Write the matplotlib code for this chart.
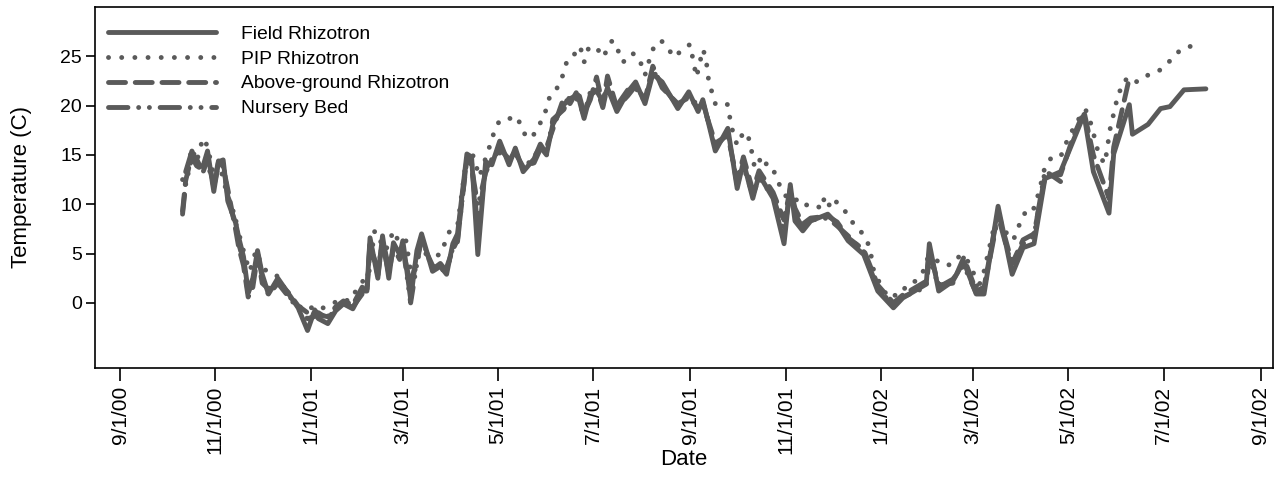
import matplotlib
matplotlib.use('Agg')
import matplotlib.pyplot as plt
import matplotlib.dates as mdates
from matplotlib.ticker import FuncFormatter
import numpy as np
import pandas as pd

plt.rcParams['font.family'] = ['Liberation Sans', 'DejaVu Sans']

# sampling dates shared by the field, above-ground and nursery probes
probe_dates = [
    '2000-10-11', '2000-10-13', '2000-10-17', '2000-10-20', '2000-10-24', '2000-10-27',
    '2000-10-31', '2000-11-03', '2000-11-06', '2000-11-09', '2000-11-14', '2000-11-16',
    '2000-11-19', '2000-11-22', '2000-11-25', '2000-11-28', '2000-12-01', '2000-12-05',
    '2000-12-11', '2000-12-18', '2000-12-24', '2000-12-30', '2001-01-03', '2001-01-06',
    '2001-01-12', '2001-01-17', '2001-01-22', '2001-01-28', '2001-02-03', '2001-02-06',
    '2001-02-08', '2001-02-13', '2001-02-16', '2001-02-20', '2001-02-23', '2001-02-27',
    '2001-03-01', '2001-03-06', '2001-03-10', '2001-03-13', '2001-03-20', '2001-03-25',
    '2001-03-29', '2001-04-02', '2001-04-05', '2001-04-11', '2001-04-14', '2001-04-18',
    '2001-04-23', '2001-04-27', '2001-05-02', '2001-05-08', '2001-05-12', '2001-05-17',
    '2001-05-24', '2001-05-28', '2001-06-01', '2001-06-05', '2001-06-12', '2001-06-16',
    '2001-06-21', '2001-06-25', '2001-06-29', '2001-07-03', '2001-07-07', '2001-07-10',
    '2001-07-16', '2001-07-23', '2001-07-28', '2001-08-03', '2001-08-08', '2001-08-14',
    '2001-08-24', '2001-08-31', '2001-09-06', '2001-09-09', '2001-09-17', '2001-09-25',
    '2001-10-01', '2001-10-05', '2001-10-11', '2001-10-15', '2001-10-24', '2001-10-31',
    '2001-11-04', '2001-11-07', '2001-11-12', '2001-11-17', '2001-11-28', '2001-12-04',
    '2001-12-11', '2001-12-21', '2001-12-30', '2002-01-09', '2002-01-15', '2002-01-30',
    '2002-02-01', '2002-02-07', '2002-02-16', '2002-02-23', '2002-03-03', '2002-03-08',
    '2002-03-17', '2002-03-26', '2002-04-02', '2002-04-09', '2002-04-16', '2002-04-26',
    '2002-05-04', '2002-05-11', '2002-05-17', '2002-05-27', '2002-05-30', '2002-06-09',
    '2002-06-11', '2002-06-21', '2002-06-29', '2002-07-05', '2002-07-14', '2002-07-28',
]

field_temp = [
    None, 13.3, 15.4, 14.1, 13.8, 15.4, 11.3, 14.3, 14.5, 10.3, 8.1, 6.6,
    4.7, 1.2, 2.5, 5.3, 2.9, 0.9, 2.5, 0.9, -0.5, -2.8, -1.0, -1.6,
    -2.1, -0.8, -0.1, -0.6, 1.2, 1.2, 6.6, 2.5, 6.8, 2.5, 6.1, 4.9,
    6.3, 0.4, 5.3, 7.0, 3.2, 3.7, 2.9, 6.0, 7.0, 15.1, 14.8, 4.9,
    14.3, 14.0, 16.4, 14.0, 15.7, 13.3, 14.6, 16.1, 15.1, 18.1, 20.1, 20.7,
    21.1, 18.7, 21.1, 21.5, 20.4, 21.8, 19.4, 21.4, 22.4, 20.2, 23.2, 22.4,
    19.7, 21.4, 19.4, 20.6, 15.4, 17.7, 11.6, 14.3, 10.6, 13.0, 10.6, 6.0,
    12.0, 8.3, 7.3, 8.3, 9.0, 8.0, 6.3, 4.9, 1.2, -0.5, 0.5, 1.9,
    6.0, 1.2, 2.2, 4.2, 0.9, 0.9, 9.8, 2.9, 5.6, 6.0, 12.6, 13.3,
    16.4, 19.1, 13.3, 9.1, 15.1, 20.1, 17.1, 18.1, 19.7, 19.9, 21.6, 21.7,
]

above_temp = [
    9.3, 12.4, 15.0, 14.6, 13.2, 14.6, 12.0, 14.4, 13.8, 11.5, 7.4, 5.6,
    3.8, 0.6, 1.6, 4.8, 2.0, 1.4, 2.2, 1.0, -0.3, -1.0, -0.6, -1.2,
    -1.4, -0.4, 0.2, -0.2, 1.6, 1.0, 5.8, 3.4, 6.0, 3.0, 5.6, 4.4,
    5.4, 1.8, 4.6, 6.2, 3.8, 3.2, 3.6, 5.4, 6.4, 14.6, 14.2, 7.5,
    13.6, 14.4, 15.6, 14.6, 15.2, 13.8, 14.2, 15.6, 15.8, 17.6, 20.8, 20.2,
    21.6, 19.2, 20.6, 22.9, 20.0, 23.0, 19.8, 21.0, 22.0, 20.6, 24.0, 21.8,
    20.2, 20.8, 19.8, 20.2, 16.2, 17.0, 12.4, 14.8, 11.4, 13.4, 11.2, 8.4,
    11.6, 9.6, 8.0, 8.6, 8.8, 8.2, 6.6, 5.4, 1.8, 0.0, 0.8, 2.2,
    5.2, 1.8, 2.0, 4.6, 1.2, 1.6, 9.2, 4.0, 6.4, 7.0, 12.8, 13.0,
    16.8, 19.4, 15.0, 10.6, 15.8, 22.8,
]

nursery_temp = [
    9.0, 12.0, 14.8, 13.9, 13.5, 14.2, 11.8, 14.0, 14.2, 10.8, 8.6, 6.0,
    4.2, 1.0, 2.2, 5.0, 2.6, 0.8, 2.0, 0.6, -0.6, -1.6, -1.4, -1.0,
    -1.6, -0.6, -0.2, -0.4, 0.9, 1.4, 6.2, 2.8, 6.4, 3.6, 5.2, 5.0,
    5.8, 0.0, 4.0, 6.6, 3.4, 4.0, 3.2, 5.6, 6.2, 14.8, 13.8, 9.8,
    13.2, 14.6, 15.2, 14.4, 15.4, 13.6, 14.8, 15.8, 15.0, 18.6, 19.6, 21.0,
    20.6, 19.0, 21.4, 21.8, 19.8, 22.0, 20.0, 21.6, 21.8, 20.4, 23.6, 22.0,
    20.0, 21.0, 20.0, 20.4, 15.8, 17.2, 12.0, 13.8, 11.0, 12.6, 10.8, 7.2,
    11.4, 9.0, 7.6, 8.4, 8.6, 7.8, 6.8, 5.2, 1.4, -0.2, 0.6, 1.6,
    4.8, 1.6, 2.4, 3.8, 1.0, 1.4, 8.8, 3.6, 6.0, 6.8, 13.4, 12.3,
]

pip_dates = [
    '2000-10-11', '2000-10-14', '2000-10-17', '2000-10-20', '2000-10-24', '2000-10-27',
    '2000-10-31', '2000-11-04', '2000-11-07', '2000-11-10', '2000-11-14', '2000-11-17',
    '2000-11-20', '2000-11-23', '2000-11-27', '2000-12-01', '2000-12-05', '2000-12-11',
    '2000-12-18', '2000-12-24', '2000-12-30', '2001-01-03', '2001-01-07', '2001-01-13',
    '2001-01-20', '2001-01-26', '2001-02-02', '2001-02-07', '2001-02-11', '2001-02-18',
    '2001-02-23', '2001-02-27', '2001-03-03', '2001-03-07', '2001-03-12', '2001-03-19',
    '2001-03-25', '2001-03-31', '2001-04-05', '2001-04-10', '2001-04-14', '2001-04-19',
    '2001-04-25', '2001-04-29', '2001-05-02', '2001-05-06', '2001-05-10', '2001-05-13',
    '2001-05-16', '2001-05-19', '2001-05-23', '2001-05-26', '2001-05-30', '2001-06-01',
    '2001-06-03', '2001-06-07', '2001-06-10', '2001-06-12', '2001-06-14', '2001-06-18',
    '2001-06-21', '2001-06-23', '2001-06-25', '2001-06-28', '2001-07-03', '2001-07-07',
    '2001-07-10', '2001-07-13', '2001-07-17', '2001-07-20', '2001-07-25', '2001-07-28',
    '2001-08-01', '2001-08-03', '2001-08-07', '2001-08-10', '2001-08-14', '2001-08-19',
    '2001-08-22', '2001-08-28', '2001-09-01', '2001-09-03', '2001-09-05', '2001-09-06',
    '2001-09-09', '2001-09-11', '2001-09-12', '2001-09-13', '2001-09-15', '2001-09-17',
    '2001-09-19', '2001-09-25', '2001-09-26', '2001-09-27', '2001-09-29', '2001-10-01',
    '2001-10-05', '2001-10-08', '2001-10-09', '2001-10-11', '2001-10-12', '2001-10-15',
    '2001-10-18', '2001-10-20', '2001-10-25', '2001-10-28', '2001-11-02', '2001-11-05',
    '2001-11-09', '2001-11-12', '2001-11-20', '2001-11-24', '2001-11-26', '2001-11-30',
    '2001-12-03', '2001-12-08', '2001-12-12', '2001-12-17', '2001-12-21', '2001-12-25',
    '2001-12-27', '2001-12-30', '2002-01-02', '2002-01-06', '2002-01-12', '2002-01-15',
    '2002-01-17', '2002-01-23', '2002-01-26', '2002-01-30', '2002-01-31', '2002-02-04',
    '2002-02-10', '2002-02-16', '2002-02-21', '2002-02-25', '2002-03-01', '2002-03-04',
    '2002-03-06', '2002-03-08', '2002-03-11', '2002-03-14', '2002-03-17', '2002-03-20',
    '2002-03-24', '2002-03-27', '2002-03-29', '2002-04-02', '2002-04-04', '2002-04-09',
    '2002-04-11', '2002-04-13', '2002-04-16', '2002-04-20', '2002-04-26', '2002-04-29',
    '2002-05-02', '2002-05-06', '2002-05-09', '2002-05-12', '2002-05-15', '2002-05-18',
    '2002-05-20', '2002-05-24', '2002-05-26', '2002-05-27', '2002-05-29', '2002-05-31',
    '2002-06-01', '2002-06-02', '2002-06-05', '2002-06-07', '2002-06-09', '2002-06-14',
    '2002-06-21', '2002-06-27', '2002-07-03', '2002-07-10', '2002-07-16', '2002-07-22',
]

pip_temp = [
    12.5, 13.5, 15.7, 14.3, 16.7, 15.9, 12.8, 13.8, 12.0, 9.8, 8.1, 6.5,
    4.7, 3.2, 5.3, 3.7, 3.0, 2.7, 0.7, -0.3, -0.8, -0.3, -0.6, -0.3,
    0.4, 0.2, 2.0, 2.7, 7.3, 5.3, 7.3, 6.0, 6.3, 2.2, 5.3, 4.7,
    4.9, 7.3, 7.8, 13.8, 15.4, 12.8, 15.6, 17.6, 18.5, 18.7, 18.7, 18.9,
    17.8, 16.8, 16.8, 17.8, 18.7, 19.8, 20.9, 21.6, 22.4, 23.4, 24.5, 24.9,
    26.0, 25.7, 24.4, 25.9, 25.9, 24.9, 25.7, 26.6, 25.5, 24.4, 25.3, 25.2,
    24.1, 23.1, 25.3, 26.4, 26.5, 25.5, 24.9, 25.9, 26.2, 24.4, 22.9, 23.6,
    25.7, 24.9, 23.4, 22.3, 21.3, 20.2, 20.4, 20.1, 19.1, 18.1, 16.9, 16.0,
    17.3, 17.1, 16.0, 15.0, 13.8, 14.6, 13.7, 14.2, 13.2, 12.0, 10.6, 10.3,
    10.5, 9.9, 10.0, 9.5, 10.8, 9.6, 10.3, 9.6, 8.5, 7.6, 6.9, 5.6,
    3.5, 2.4, 1.5, 0.5, 0.9, 1.0, 1.8, 2.2, 2.7, 3.7, 4.7, 4.5,
    3.8, 3.9, 4.9, 4.4, 3.2, 1.2, 2.4, 3.2, 5.3, 7.4, 9.0, 7.8,
    6.6, 6.4, 7.5, 8.5, 9.6, 9.6, 10.6, 11.8, 13.8, 14.7, 14.8, 16.0,
    17.1, 18.1, 19.1, 19.6, 18.4, 16.6, 15.3, 14.1, 15.6, 17.1, 18.6, 19.7,
    20.7, 21.4, 21.7, 22.7, 22.9, 22.4, 23.1, 23.4, 24.2, 25.4, 26.0, 26.0,
]

probe_dates = pd.to_datetime(probe_dates)
pip_dates = pd.to_datetime(pip_dates)
field = np.array([np.nan if v is None else v for v in field_temp])

line_color = '#5a5a5a'
lw = 3.5

fig = plt.figure(figsize=(12.81, 4.82), dpi=100)
ax = fig.add_axes([0.0742, 0.2365, 0.9196, 0.749])

ax.plot(probe_dates, field, color=line_color, lw=lw, solid_capstyle='round',
        solid_joinstyle='round', label='Field Rhizotron')
ax.plot(pip_dates, pip_temp, color=line_color, lw=lw, linestyle=(0, (0.01, 2.7)),
        dash_capstyle='round', label='PIP Rhizotron')
ax.plot(probe_dates[:len(above_temp)], above_temp, color=line_color, lw=lw,
        linestyle=(0, (3.5, 2.0)), dash_capstyle='round', dash_joinstyle='round',
        label='Above-ground Rhizotron')
ax.plot(probe_dates[:len(nursery_temp)], nursery_temp, color=line_color, lw=lw,
        linestyle=(0, (4.0, 2.2, 0.01, 2.2, 0.01, 2.2)), dash_capstyle='round',
        dash_joinstyle='round', label='Nursery Bed')

ax.set_xlim(pd.Timestamp('2000-08-16'), pd.Timestamp('2002-09-09'))
ax.set_ylim(-6.6, 30.0)
ax.set_yticks([0, 5, 10, 15, 20, 25])

ax.xaxis.set_major_locator(mdates.MonthLocator(bymonth=[1, 3, 5, 7, 9, 11]))
ax.xaxis.set_major_formatter(FuncFormatter(
    lambda v, pos: '{d.month}/{d.day}/{d:%y}'.format(d=mdates.num2date(v))))
plt.setp(ax.get_xticklabels(), rotation=90)

ax.tick_params(axis='x', direction='out', length=9, width=1.2, labelsize=15, pad=4)
ax.tick_params(axis='y', direction='out', length=6.5, width=1.2, labelsize=14, pad=3)
for spine in ax.spines.values():
    spine.set_linewidth(1.2)

ax.set_xlabel('Date', fontsize=16, labelpad=-4)
ax.set_ylabel('Temperature (C)', fontsize=16, labelpad=20)

ax.legend(loc='upper left', bbox_to_anchor=(0.011, 0.9495), frameon=False,
          fontsize=13.9, handlelength=5.6, handletextpad=1.3, labelspacing=0.38,
          borderpad=0, borderaxespad=0)

fig.savefig('out.png', dpi=100)
